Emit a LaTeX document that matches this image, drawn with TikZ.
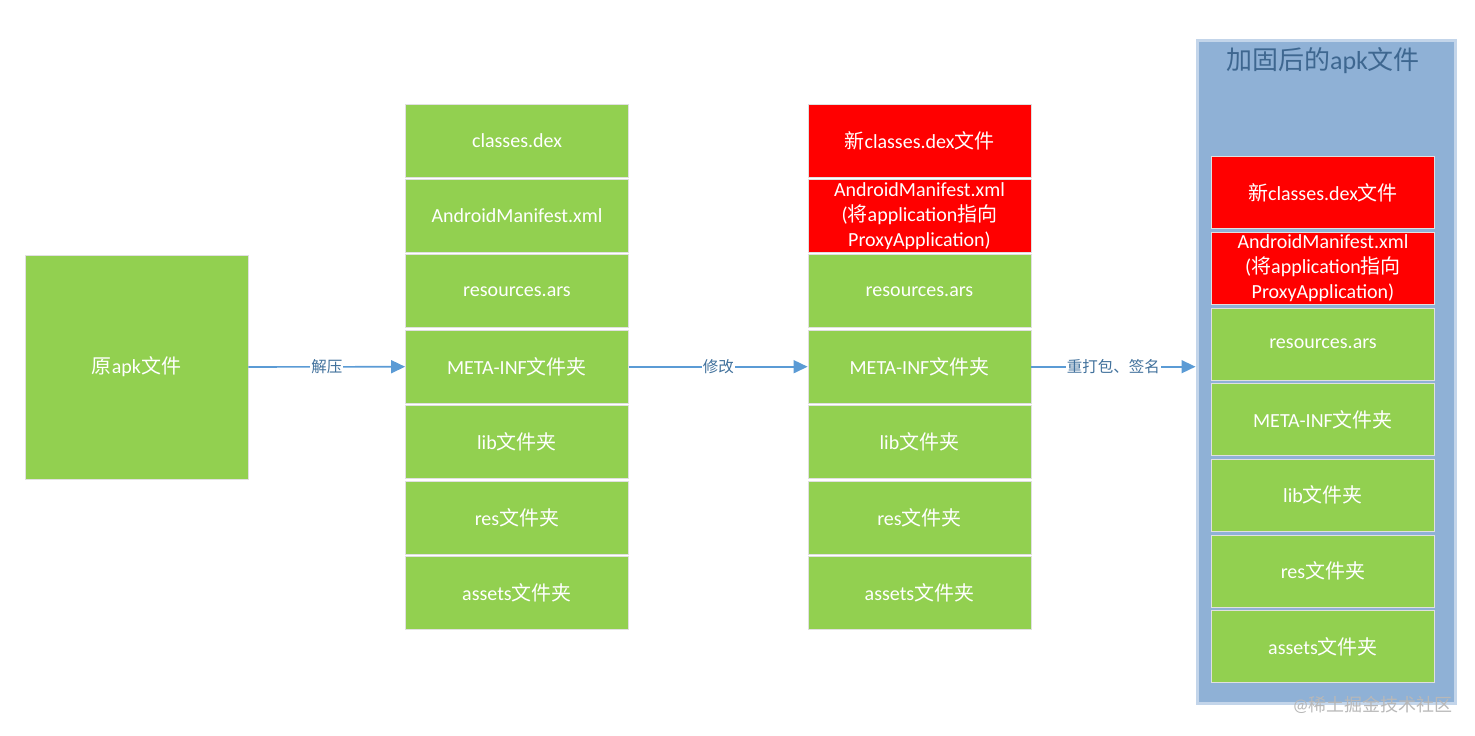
\documentclass[tikz,border=0pt]{standalone}
\usepackage{fontspec}
\setmainfont{Carlito}
\newfontfamily\cjk{Noto Sans CJK SC}
\newcommand\zh[1]{{\cjk #1}}
\usetikzlibrary{arrows.meta}
\definecolor{apkgreen}{HTML}{92D050}
\definecolor{flowblue}{HTML}{5B9BD5}
\definecolor{tagblue}{HTML}{41719C}
\definecolor{packfill}{HTML}{8FB1D6}
\definecolor{packedge}{HTML}{C3D5EA}
\definecolor{titleblue}{HTML}{3E6790}

\begin{document}
\begin{tikzpicture}[x=1pt,y=-1pt,
    file/.style={draw=black!12, line width=0.8pt, fill=apkgreen, text=white,
        minimum width=223pt, minimum height=73pt, inner sep=0pt, align=center,
        font=\fontsize{20}{25}\selectfont},
    hot/.style={file, fill=red},
    flow/.style={draw=flowblue, line width=1.6pt, -{Triangle[length=14pt,width=13pt]}},
    tag/.style={fill=white, text=tagblue, inner sep=1pt, font=\fontsize{15.5}{18}\selectfont}]
    \useasboundingbox (0,0) rectangle (1475,736);

    % packed apk container
    \node[draw=packedge, line width=3pt, fill=packfill, minimum width=258pt,
        minimum height=663pt, inner sep=0pt] (packed) at (1326,371.5) {};
    \node[text=titleblue, font=\fontsize{26}{30}\selectfont] (title) at (1323,61) {\zh{加固后的}apk\zh{文件}};

    % original apk
    \node[file, minimum width=223pt, minimum height=224pt] (apk) at (136.5,367) {\zh{原}apk\zh{文件}};

    % unpacked files
    \foreach \t [count=\i] in {classes.dex, AndroidManifest.xml, resources.ars,
        META-INF\zh{文件夹}, lib\zh{文件夹}, res\zh{文件夹}, assets\zh{文件夹}}
        \node[file] (c1-\i) at (517, 140.5+75.4*\i-75.4) {\t};

    % modified files
    \node[hot] (c2-1) at (919.5,140.5) {\zh{新}classes.dex\zh{文件}};
    \node[hot] (c2-2) at (919.5,215.9) {AndroidManifest.xml\\(\zh{将}application\zh{指向}\\ProxyApplication)};
    \foreach \t [count=\i from 3] in {resources.ars, META-INF\zh{文件夹}, lib\zh{文件夹},
        res\zh{文件夹}, assets\zh{文件夹}}
        \node[file] (c2-\i) at (919.5, 140.5+75.4*\i-75.4) {\t};

    % repacked files
    \node[hot, minimum height=72pt] (c3-1) at (1323,192.5) {\zh{新}classes.dex\zh{文件}};
    \node[hot, minimum height=72pt] (c3-2) at (1323,268.2) {AndroidManifest.xml\\(\zh{将}application\zh{指向}\\ProxyApplication)};
    \foreach \t [count=\i from 3] in {resources.ars, META-INF\zh{文件夹}, lib\zh{文件夹},
        res\zh{文件夹}, assets\zh{文件夹}}
        \node[file, minimum height=72pt] (c3-\i) at (1323, 192.5+75.7*\i-75.7) {\t};

    % steps
    \draw[flow] (apk.east) -- node[tag] (t1) {\zh{解压}} (c1-4.west);
    \draw[flow] (c1-4.east) -- node[tag] (t2) {\zh{修改}} (c2-4.west);
    \draw[flow] (c2-4.east) -- node[tag] (t3) {\zh{重打包、签名}} (packed.west |- c2-4.east);

    \node[anchor=south east, text=black!28, inner sep=0pt, font=\fontsize{18}{22}\selectfont] (mark) at (1453,714) {@\zh{稀土掘金技术社区}};
\end{tikzpicture}
\end{document}
